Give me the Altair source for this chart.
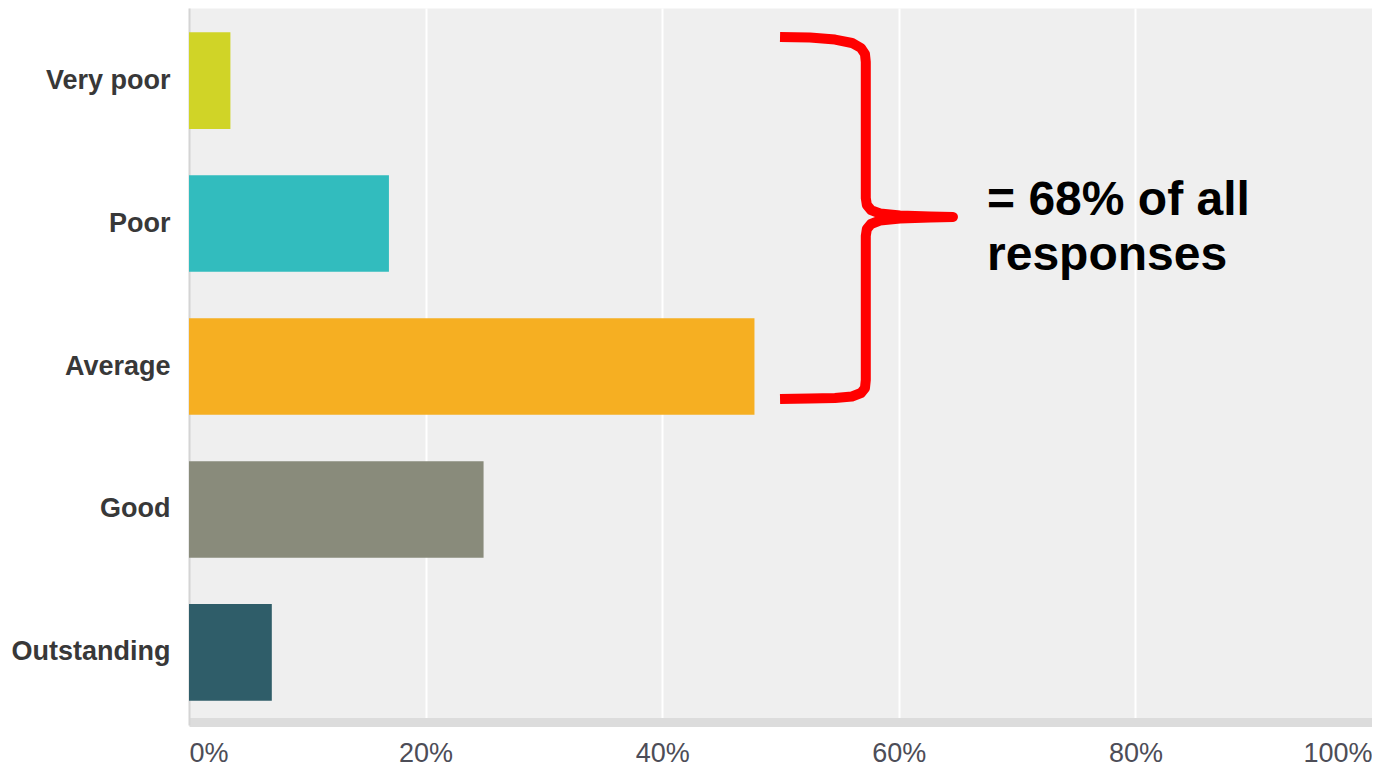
import altair as alt
import pandas as pd

categories = ["Very poor", "Poor", "Average", "Good", "Outstanding"]
percent = [3.5, 16.9, 47.8, 24.9, 7.0]
colors = ["#d0d427", "#32bcbe", "#f6af22", "#898b7b", "#2f5d69"]
x_ticks = [0, 20, 40, 60, 80, 100]

# brace annotation, x in percent, y in category-band units (0 = top, 5 = bottom)
brace_x = [49.96, 52.49, 54.61, 56.04, 56.80, 57.14, 57.21, 57.21, 57.30, 57.65, 58.41, 60.10, 62.64, 64.58,
           62.64, 60.10, 58.41, 57.65, 57.30, 57.21, 57.21, 57.14, 56.80, 56.04, 54.61, 52.49, 49.96]
brace_y = [0.202, 0.206, 0.220, 0.244, 0.279, 0.321, 0.377, 1.325, 1.374, 1.409, 1.433, 1.447, 1.454, 1.457,
           1.461, 1.468, 1.482, 1.506, 1.541, 1.590, 2.594, 2.650, 2.685, 2.709, 2.720, 2.723, 2.727]
note_text = "= 68% of all\nresponses"
note_x = [67.46]
note_y = [1.444]

FONT = "Liberation Sans"

bars_df = pd.DataFrame({"category": categories, "percent": percent})
brace_df = pd.DataFrame({"i": list(range(len(brace_x))), "bx": brace_x, "by": brace_y})
note_df = pd.DataFrame({"tx": note_x, "ty": note_y, "label": [note_text]})

xscale = alt.Scale(domain=[0, 100], nice=False, zero=True)

bars = alt.Chart(bars_df).mark_bar().encode(
    x=alt.X(
        "percent:Q",
        scale=xscale,
        axis=alt.Axis(
            values=x_ticks,
            labelExpr="datum.value + '%'",
            title=None,
            grid=True,
            gridColor="#ffffff",
            gridWidth=2,
            gridOpacity={"expr": "datum.value > 0 && datum.value < 100 ? 1 : 0"},
            domainColor="#dcdcdc",
            domainWidth=9,
            offset=-3,
            ticks=False,
            labelFont=FONT,
            labelFontSize=27,
            labelColor="#4d4d57",
            labelPadding=18,
            labelFlush=True,
        ),
    ),
    y=alt.Y(
        "category:N",
        sort=categories,
        scale=alt.Scale(paddingInner=0.324, paddingOuter=0.17),
        axis=alt.Axis(
            title=None,
            ticks=False,
            grid=False,
            domainColor="#d4d4d4",
            domainWidth=2,
            labelFont=FONT,
            labelFontSize=27,
            labelFontWeight="bold",
            labelColor="#383838",
            labelPadding=19,
        ),
    ),
    color=alt.Color("category:N", scale=alt.Scale(domain=categories, range=colors), legend=None),
)

yq = alt.Scale(domain=[0, 5], reverse=True, nice=False, zero=False)

brace = alt.Chart(brace_df).mark_line(
    color="#ff0000", strokeWidth=10, strokeCap="butt", strokeJoin="round"
).encode(
    x=alt.X("bx:Q", scale=xscale),
    y=alt.Y("by:Q", scale=yq, axis=None),
    order="i:Q",
)

note = alt.Chart(note_df).mark_text(
    align="left", baseline="alphabetic", font=FONT, fontSize=48, fontWeight="bold",
    color="#000000", lineBreak="\n", lineHeight=55,
).encode(
    x=alt.X("tx:Q", scale=xscale),
    y=alt.Y("ty:Q", scale=yq, axis=None),
    text="label:N",
)

chart = alt.layer(bars, brace, note).resolve_scale(y="independent").properties(
    width=1183,
    height=717,
    padding={"left": 181, "top": 0, "right": 0, "bottom": 46},
    autosize=alt.AutoSizeParams(type="none"),
).configure_view(fill="#efefef", strokeOpacity=0)

chart.save("out.html", embed_options={"renderer": "svg", "actions": False})
